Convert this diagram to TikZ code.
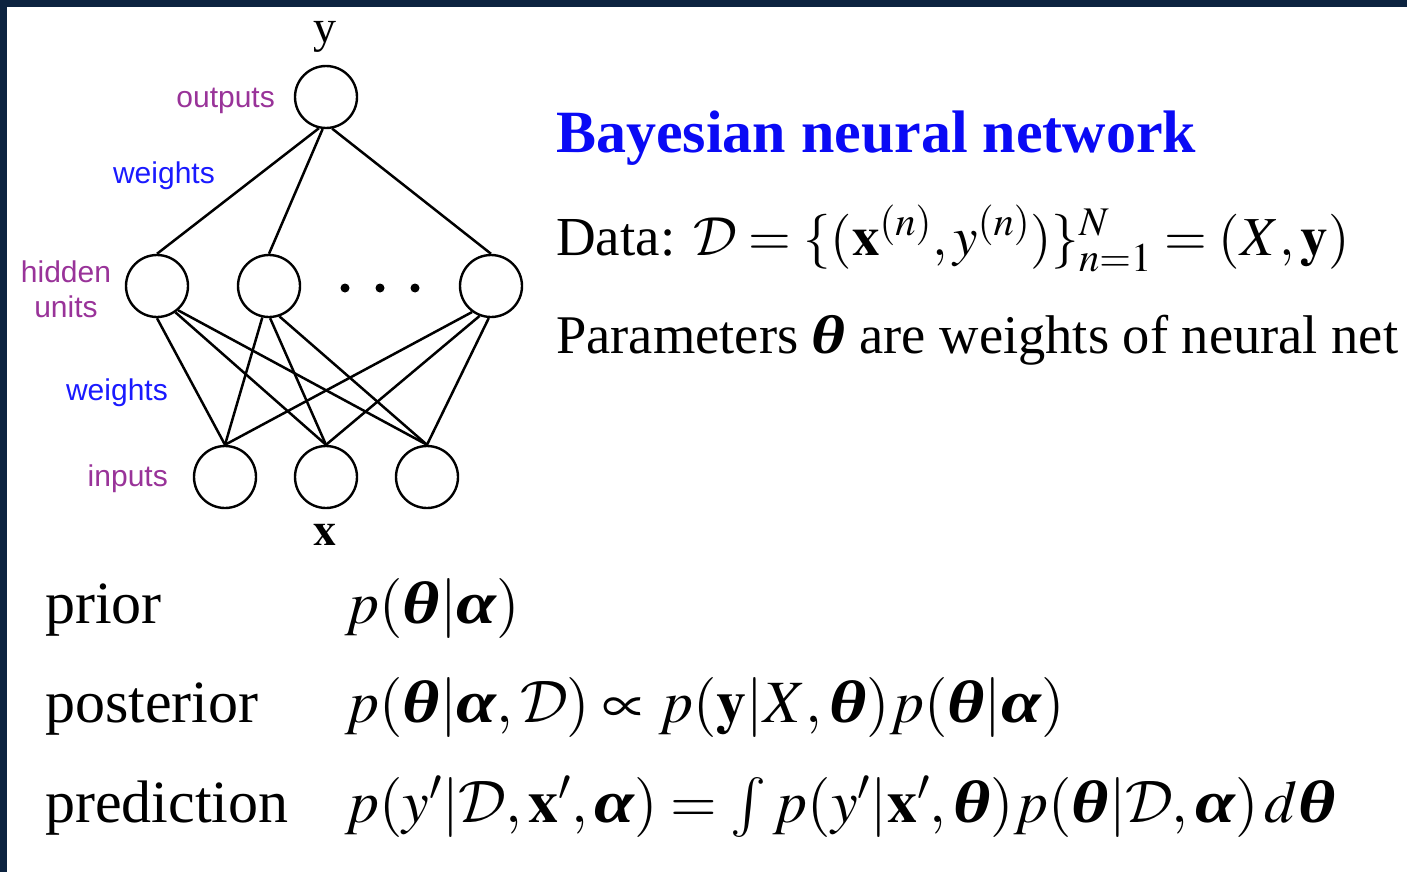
\documentclass[tikz,border=0pt]{standalone}
\usepackage{amsmath}
\IfFileExists{mathptmx.sty}{\usepackage{mathptmx}}{}
\usepackage[no-math]{fontspec}
\setmainfont{Liberation Serif}
\setsansfont{Liberation Sans}
\usetikzlibrary{positioning}
\definecolor{frame}{HTML}{0C2340}
\definecolor{layer}{HTML}{993399}
\definecolor{wcol}{HTML}{1A1AFF}
\definecolor{headblue}{HTML}{0A0AF5}
\newcommand{\vtheta}{\text{\scalebox{1.2}[1]{\bfseries\itshape θ}}}
\newcommand{\valpha}{\text{\scalebox{1.2}[1]{\bfseries\itshape α}}}
\makeatletter
\newcommand{\dset}{\text{\scalebox{\fpeval{\f@size/10}}{\fontsize{10}{12}\usefont{OMS}{cmsy}{m}{n}D}}}
\makeatother
\tikzset{
  neuron/.style={circle,draw=black,line width=2.4pt,minimum size=62pt,inner sep=0pt},
  wire/.style={draw=black,line width=2.5pt},
  layertxt/.style={font=\sffamily\fontsize{30}{35}\selectfont,text=layer,inner sep=0pt,align=center},
  weighttxt/.style={layertxt,text=wcol},
  vartxt/.style={font=\fontsize{46}{50}\selectfont,inner sep=0pt,anchor=base},
  bigtxt/.style={font=\fontsize{55}{66}\selectfont,inner sep=0pt,anchor=base west},
  rowtxt/.style={font=\fontsize{60}{72}\selectfont,inner sep=0pt,anchor=base west},
}

\begin{document}
\begin{tikzpicture}[x=1pt,y=-1pt]
  \useasboundingbox (0,0) rectangle (1407,872);
  \fill[frame] (0,0) rectangle (1407,7);
  \fill[frame] (0,0) rectangle (7,872);

  % network
  \node[neuron] (out) at (326,97) {};
  \foreach \k/\x in {1/157,2/269,3/491}
    \node[neuron] (h\k) at (\x,286) {};
  \foreach \k/\x in {1/225,2/326,3/427}
    \node[neuron] (i\k) at (\x,477) {};
  \foreach \x in {345,380,415}
    \fill (\x,288) circle (4.5);

  \foreach \k/\a in {1/-103,2/-96,3/-79}
    \draw[wire] (out.\a) -- (h\k.north);
  \foreach \k/\j/\a in {1/1/-90,1/2/-55,1/3/-49,2/1/-102,2/2/-88,2/3/-71,3/1/-126,3/2/-111,3/3/-94}
    \draw[wire] (h\k.\a) -- (i\j.north);

  \node[vartxt] (ylab) at (325,43) {y};
  \node[vartxt] (xlab) at (325,545) {$\mathbf{x}$};
  \node[layertxt,anchor=base east] (outlab) at (275,107) {outputs};
  \node[weighttxt,anchor=base east] (w2lab) at (215,183) {weights};
  \node[layertxt] (hidlab) at (66,289) {hidden\\units};
  \node[weighttxt,anchor=base east] (w1lab) at (168,400) {weights};
  \node[layertxt,anchor=base east] (inlab) at (168,486) {inputs};

  % text on the right
  \node[bigtxt,font=\bfseries\fontsize{60}{72}\selectfont,text=headblue] (head) at (556,153) {Bayesian neural network};
  \node[bigtxt] (data) at (556,255) {Data: $\dset=\{(\mathbf{x}^{(n)},y^{(n)})\}_{n=1}^{N}=(X,\mathbf{y})$};
  \node[bigtxt,font=\fontsize{54.5}{66}\selectfont] (param) at (556,353) {Parameters $\vtheta$ are weights of neural net};

  % rows
  \node[rowtxt] (prior) at (45,623) {prior};
  \node[rowtxt] (post) at (45,722) {posterior};
  \node[rowtxt] (pred) at (45,822) {prediction};
  \node[rowtxt] (prioreq) at (345,623) {$p(\vtheta|\valpha)$};
  \node[rowtxt] (posteq) at (345,722) {$p(\vtheta|\valpha,\dset)\propto p(\mathbf{y}|X,\vtheta)p(\vtheta|\valpha)$};
  \node[rowtxt] (predeq) at (345,822) {$p(y'|\dset,\mathbf{x}',\valpha)=\int p(y'|\mathbf{x}',\vtheta)p(\vtheta|\dset,\valpha)\,d\vtheta$};
\end{tikzpicture}
\end{document}
